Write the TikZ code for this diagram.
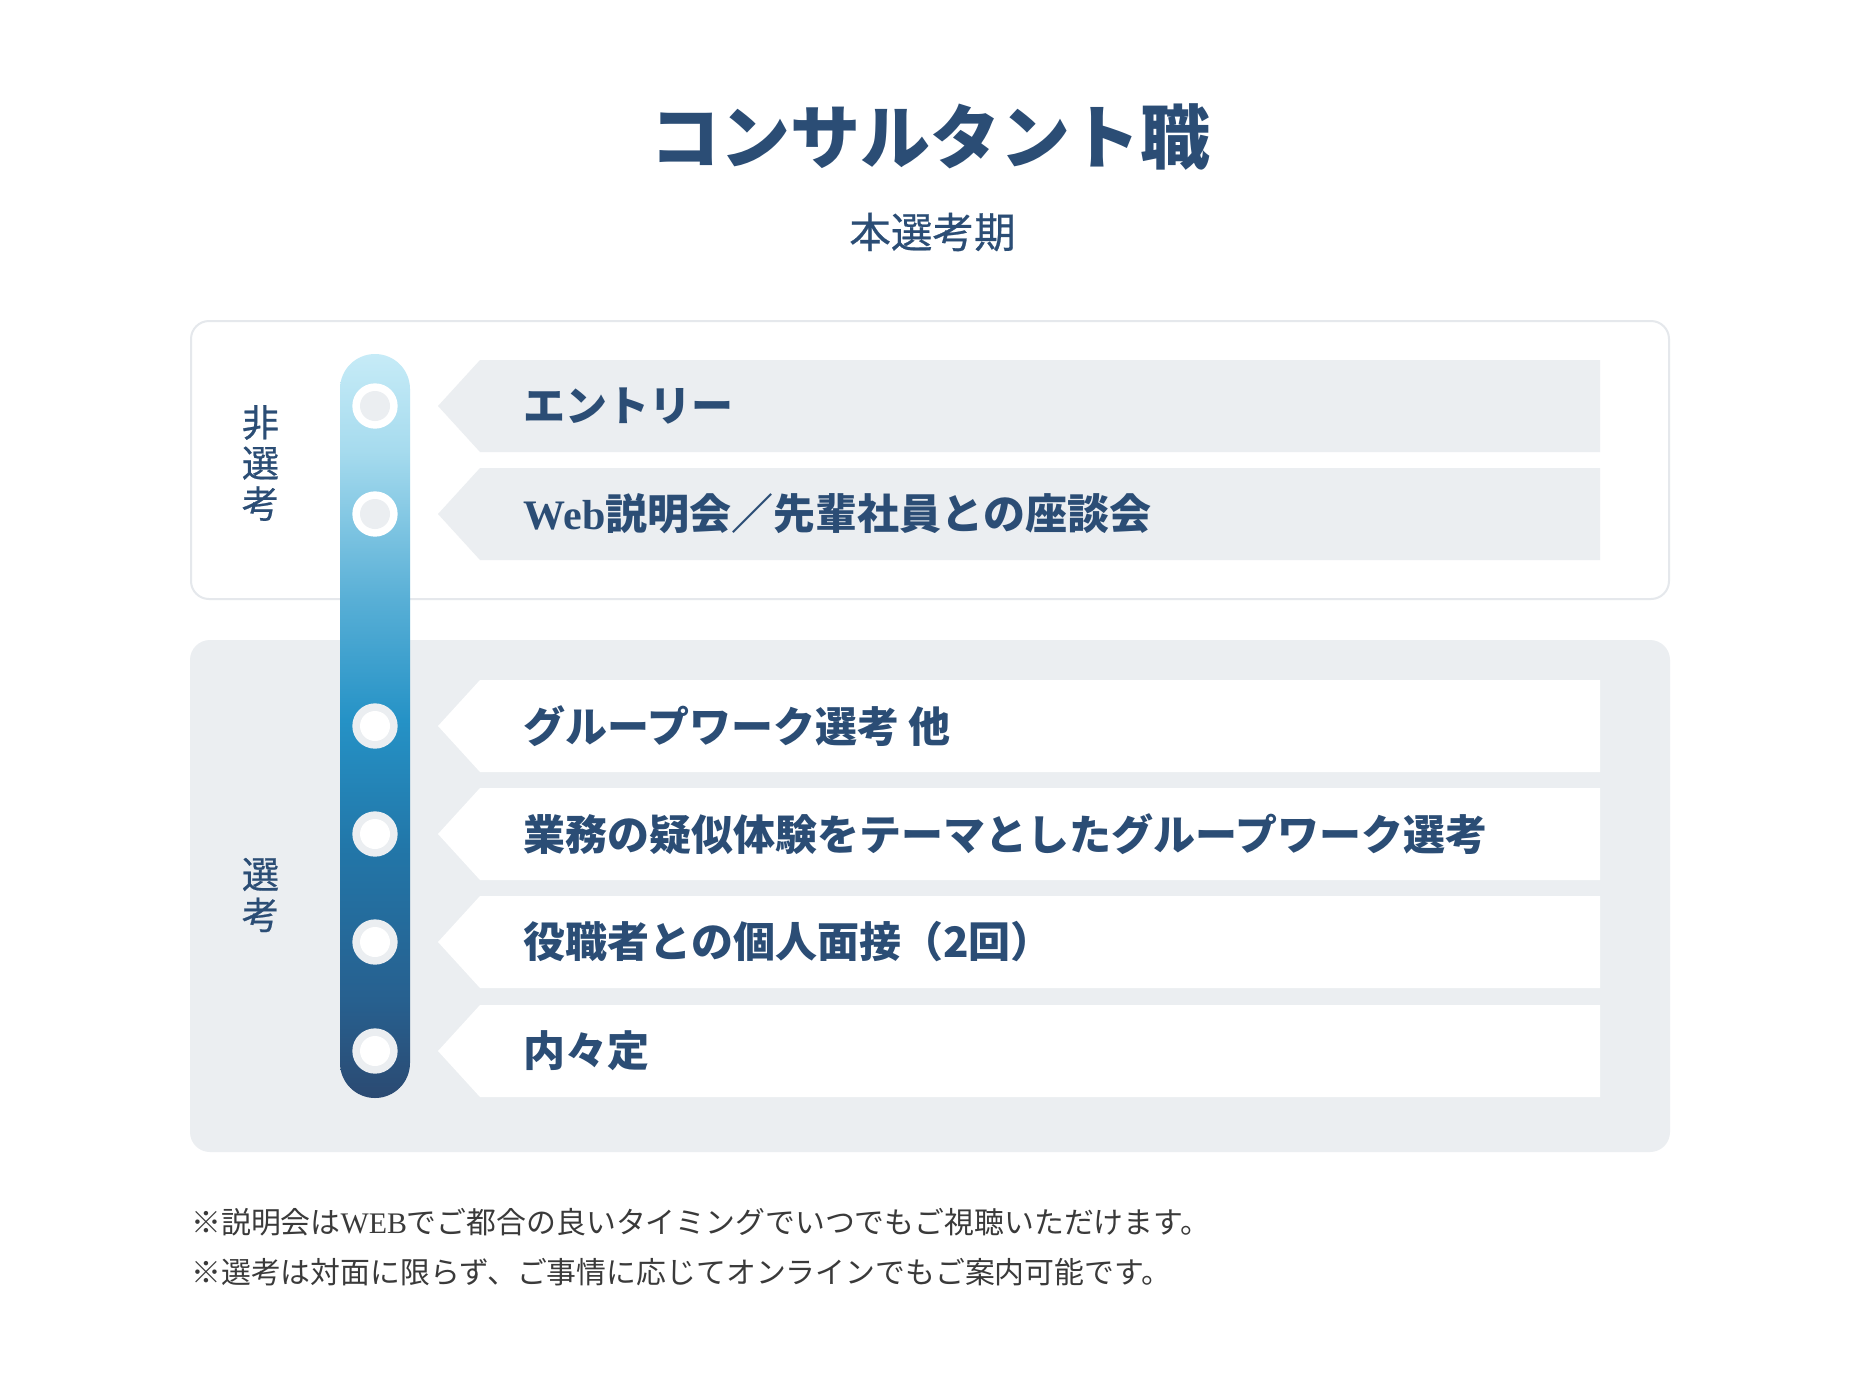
\documentclass[tikz,border=0pt]{standalone}
\usepackage{fontspec}
\newfontfamily\jp{Noto Sans CJK JP}
\newfontfamily\jpm{Noto Sans CJK JP}[FakeBold=0.6]
\newfontfamily\lat{Liberation Serif}
\definecolor{ink}{HTML}{2B4D75}
\definecolor{paleg}{HTML}{EBEEF1}
\definecolor{boxline}{HTML}{E5E8EC}
\definecolor{notecol}{HTML}{3A3A3A}
\definecolor{b0}{HTML}{2B4A72}
\definecolor{b1}{HTML}{27608F}
\definecolor{b2}{HTML}{2276A8}
\definecolor{b3}{HTML}{2592C6}
\definecolor{b4}{HTML}{58AFD6}
\definecolor{b5}{HTML}{A6DBEE}
\definecolor{b6}{HTML}{C6EBF7}
\pgfdeclareverticalshading{barshade}{100bp}{color(0bp)=(b0); color(25bp)=(b0); color(31.6bp)=(b1); color(41.7bp)=(b2); color(50.4bp)=(b3); color(58.5bp)=(b4); color(68.5bp)=(b5); color(75bp)=(b6); color(100bp)=(b6)}
\tikzset{
  bantext/.style={anchor=west, inner sep=0pt, text=ink, font=\jp\bfseries\fontsize{31.5}{37}\selectfont},
  sidelabel/.style={align=center, inner sep=0pt, text=ink, font=\jpm\fontsize{28}{30.5}\selectfont},
  notetext/.style={anchor=west, inner sep=0pt, text=notecol, font=\jp\fontsize{22.4}{26}\selectfont},
  ringtop/.style={circle, fill=white, minimum size=34pt, inner sep=0pt},
  dottop/.style={circle, fill=paleg, minimum size=22.5pt, inner sep=0pt},
  ringbot/.style={circle, fill=paleg, minimum size=34pt, inner sep=0pt},
  dotbot/.style={circle, fill=white, minimum size=22.5pt, inner sep=0pt},
}
\newcommand\bannershape[2]{% fill, top
  \fill[#1] (438,#2+46) -- (480,#2) -- (1600,#2) -- (1600,#2+92) -- (480,#2+92) -- cycle;}
\begin{document}
\begin{tikzpicture}[x=0.75pt,y=-0.75pt]
\useasboundingbox (0,0) rectangle (1860,1372);
\fill[white] (0,0) rectangle (1860,1372);

% title
\node[inner sep=0pt, text=ink, font=\jp\bfseries\fontsize{52.5}{60}\selectfont] (title) at (930.6,137) {コンサルタント職};
\node[inner sep=0pt, text=ink, font=\jpm\fontsize{31.2}{36}\selectfont] (subtitle) at (932.5,232) {本選考期};

% boxes
\draw[draw=boxline, line width=1.5pt, fill=white, rounded corners=13.5pt] (191,321) rectangle (1669,599);
\fill[paleg, rounded corners=15pt] (190,640) rectangle (1670,1152);

% side labels
\node[sidelabel] (nonsel) at (260.5,463) {非\\選\\考};
\node[sidelabel] (sel) at (260.5,895) {選\\考};

% banners
\bannershape{paleg}{360}
\bannershape{paleg}{468}
\bannershape{white}{680}
\bannershape{white}{788}
\bannershape{white}{896}
\bannershape{white}{1005}

\node[bantext] (t1) at (523.5,406) {エントリー};
\node[bantext] (t2) at (523.5,514) {{\lat\bfseries Web}説明会／先輩社員との座談会};
\node[bantext] (t3) at (523.5,726) {グループワーク選考 他};
\node[bantext] (t4) at (523.5,834) {業務の疑似体験をテーマとしたグループワーク選考};
\node[bantext] (t5) at (523.5,942) {役職者との個人面接（2回）};
\node[bantext] (t6) at (523.5,1051) {内々定};

% gradient bar
\shade[shading=barshade, rounded corners=26.25pt] (340,354) rectangle (410,1098);

% circles
\node[ringtop] (r1) at (375,406) {};
\node[dottop] (d1) at (r1) {};
\node[ringtop] (r2) at (375,514) {};
\node[dottop] (d2) at (r2) {};
\node[ringbot] (r3) at (375,726) {};
\node[dotbot] (d3) at (r3) {};
\node[ringbot] (r4) at (375,834) {};
\node[dotbot] (d4) at (r4) {};
\node[ringbot] (r5) at (375,942) {};
\node[dotbot] (d5) at (r5) {};
\node[ringbot] (r6) at (375,1051) {};
\node[dotbot] (d6) at (r6) {};

% notes
\node[notetext] (n1) at (191,1222) {※説明会は{\lat WEB}でご都合の良いタイミングでいつでもご視聴いただけます。};
\node[notetext] (n2) at (191,1272) {※選考は対面に限らず、ご事情に応じてオンラインでもご案内可能です。};
\end{tikzpicture}
\end{document}
